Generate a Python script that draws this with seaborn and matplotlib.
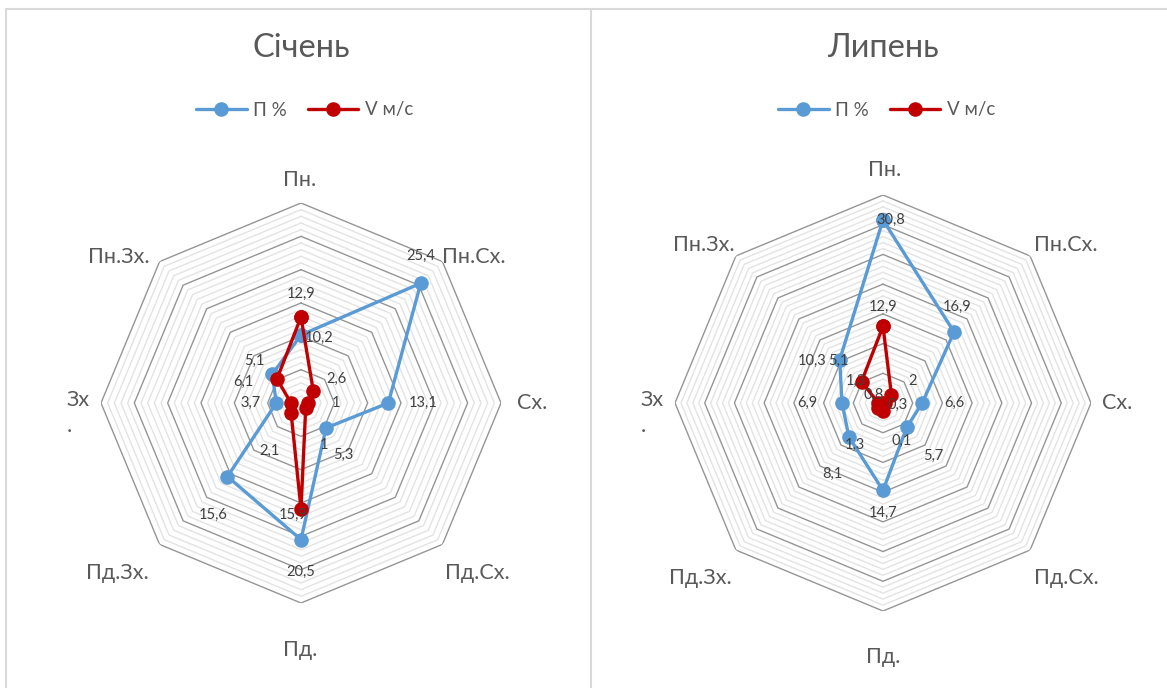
import numpy as np
import pandas as pd
import matplotlib
matplotlib.use("Agg")
import matplotlib.pyplot as plt
from matplotlib.lines import Line2D
import seaborn as sns

# ---- data -------------------------------------------------------------
directions = ["Пн.", "Пн.Сх.", "Сх.", "Пд.Сх.", "Пд.", "Пд.Зх.", "Зх\n.", "Пн.Зх."]
series_names = ["П %", "V м/с"]

jan_p = [10.2, 25.4, 13.1, 5.3, 20.5, 15.6, 3.7, 6.1]
jan_v = [12.9, 2.6, 1.0, 1.0, 15.9, 2.1, 1.5, 5.1]
jul_p = [30.8, 16.9, 6.6, 5.7, 14.7, 8.1, 6.9, 10.3]
jul_v = [12.9, 2.0, 0.3, 0.1, 1.3, 1.3, 0.8, 5.1]

titles = ["Січень", "Липень"]
r_max = [30, 35]

# ---- style ------------------------------------------------------------
sns.set_theme(style="white")
plt.rcParams["font.family"] = ["Lato", "DejaVu Sans"]

BLUE = "#5b9bd5"
RED = "#c00000"
TXT = "#595959"
LBL = "#404040"
MAJOR = "#959595"
MINOR = "#e3e3e3"

W, H = 1167, 688
fig = plt.figure(figsize=(W / 100, H / 100), dpi=100)
fig.patch.set_facecolor("white")

# label offsets in pixels (dx right, dy down) for each data label
label_off = {
    (0, 0): [(18, 3), (0, -27), (35, 0), (17, 27), (0, 32), (-14, 38), (-26, 0), (-29, 8)],
    (0, 1): [(0, -23), (23, -12), (28, 0), (18, 37), (-8, 6), (-22, 38), None, (-23, -18)],
    (1, 0): [(8, 0), (3, -25), (32, 0), (26, 29), (0, 23), (-17, 37), (-35, 0), (-28, 1)],
    (1, 1): [(0, -19), (21, -14), (13, 2), (18, 37), (-28, 34), (-22, -28), (-5, -8), (-23, -21)],
}
# category label offsets from the outer vertex (pixels)
cat_off = [
    [(-1, -23), (31, -5), (31, 0), (35, 29), (-1, 47), (-42, 29), (-23, 10), (-41, -5)],
    [(2, -25), (36, -11), (26, 0), (36, 28), (0, 46), (-36, 28), (-23, 10), (-32, -11)],
]

# panel geometry: centre (px) and radius (px)
panels = [((301, 403), 200), ((883, 403), 208)]
values = [(jan_p, jan_v), (jul_p, jul_v)]
colors = [BLUE, RED]

theta = np.deg2rad(np.arange(len(directions)) * 45.0)
theta_c = np.append(theta, theta[0] + 2 * np.pi)


def fmt(v):
    return str(int(v)) if float(v).is_integer() else f"{v:.1f}".replace(".", ",")


for pi, ((cx, cy), rad) in enumerate(panels):
    ax = fig.add_axes([(cx - rad) / W, (H - cy - rad) / H, 2 * rad / W, 2 * rad / H],
                      projection="polar")
    ax.set_theta_zero_location("N")
    ax.set_theta_direction(-1)
    ax.set_ylim(0, r_max[pi])
    ax.set_xticks([])
    ax.set_yticks([])
    ax.grid(False)
    ax.spines["polar"].set_visible(False)
    ax.set_facecolor("none")

    # octagonal gridlines, one per unit, darker every 5
    for k in range(1, r_max[pi] + 1):
        major = k % 5 == 0
        ax.plot(theta_c, [k] * len(theta_c), color=MAJOR if major else MINOR,
                lw=1.0, zorder=2 if major else 1)

    for si, (vals, col) in enumerate(zip(values[pi], colors)):
        df = pd.DataFrame({"theta": theta_c, "r": list(vals) + [vals[0]]})
        sns.lineplot(data=df, x="theta", y="r", ax=ax, sort=False, estimator=None,
                     color=col, lw=2.4, marker="o", markersize=10.5,
                     markeredgecolor=col, markeredgewidth=0, label=series_names[si],
                     zorder=3 + si)
        for j, v in enumerate(vals):
            off = label_off[(pi, si)][j]
            if off is None:
                continue
            ax.annotate(fmt(v), xy=(theta[j], v), xytext=(off[0], -off[1]),
                        textcoords="offset pixels", ha="center", va="center",
                        fontsize=10.5, color=LBL, zorder=6)

    for j, name in enumerate(directions):
        dx, dy = cat_off[pi][j]
        ax.annotate(name, xy=(theta[j], r_max[pi]), xytext=(dx, -dy),
                    textcoords="offset pixels", ha="center", va="center",
                    multialignment="left", linespacing=1.4,
                    fontsize=15.5, color=TXT, annotation_clip=False)

    ax.set_xlabel("")
    ax.set_ylabel("")
    h, l = ax.get_legend_handles_labels()
    if ax.legend_:
        ax.legend_.remove()
    fig.legend(h, l, loc="center", bbox_to_anchor=(cx / W + 0.003, 1 - 110 / H),
               ncol=2, frameon=False, fontsize=13.5, handlelength=2.7,
               columnspacing=1.1, handletextpad=0.35, labelcolor=TXT)
    fig.text(cx / W, 1 - 48 / H, titles[pi], ha="center", va="center",
             fontsize=23.5, color=TXT)

# chart area borders
for x0, y0, x1, y1 in [(6, 9, W, 9), (6, 9, 6, H), (591, 9, 591, H)]:
    fig.add_artist(Line2D([x0 / W, x1 / W], [1 - y0 / H, 1 - y1 / H],
                          transform=fig.transFigure, color="#d9d9d9", lw=1.5))

fig.savefig("out.png", dpi=100, facecolor="white")
